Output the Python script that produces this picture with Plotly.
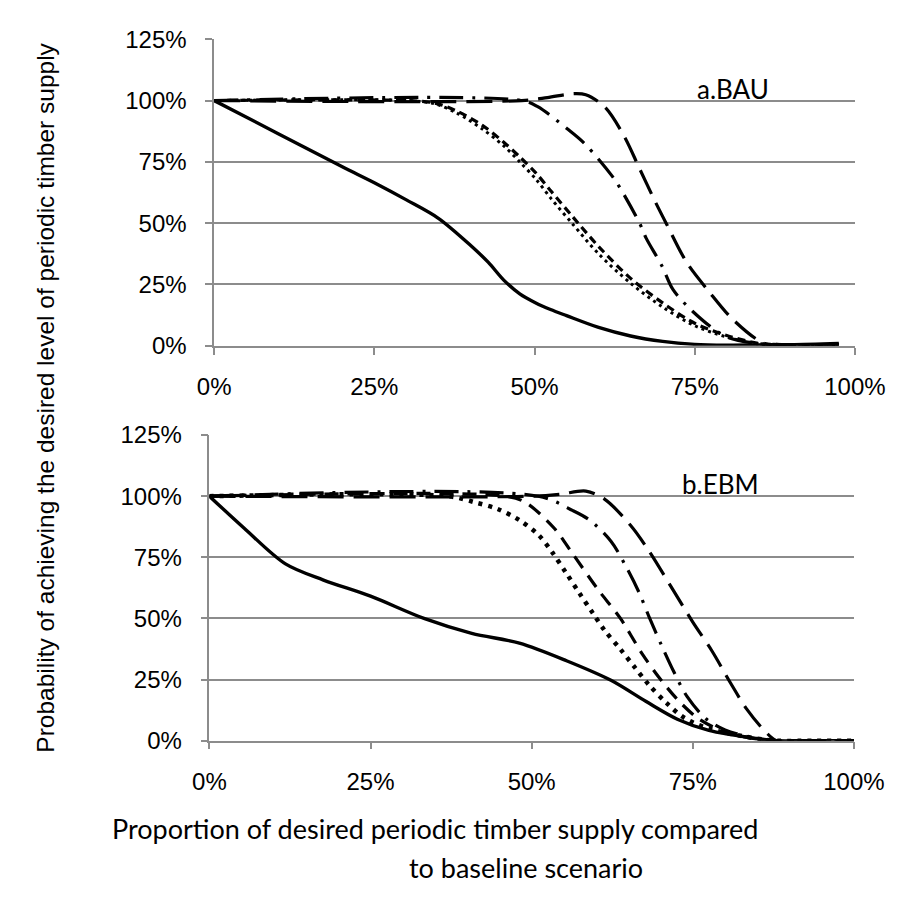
import plotly.graph_objects as go

# ---- a. BAU scenario (x: % of desired supply, y: % probability) ----
bau_solid_x = [0, 10, 20, 25, 30, 35, 40, 42.8, 45.2, 47.7, 50.2, 52.5, 55, 60, 65, 70, 75, 80, 85, 90, 97.5]
bau_solid_y = [100, 86.5, 73, 66.5, 59.5, 52, 41, 34, 26.8, 21.2, 17.5, 14.8, 12.3, 7.5, 4, 1.8, 0.6, 0.3, 0.4, 0.5, 1]

bau_dot_x = [0, 30, 34.4, 37.8, 41.8, 45.2, 47.7, 50.2, 52.6, 56, 60, 65, 70, 75, 80, 85, 90, 97.5]
bau_dot_y = [100, 100, 98.7, 95, 88.5, 81.5, 75, 68, 60, 49.5, 37.5, 25.5, 15.8, 8.2, 3.6, 0.8, 0.4, 0.5]

bau_dash_x = [0, 30, 34.4, 37.8, 41.8, 45.2, 47.7, 50.2, 52.6, 56, 60, 65, 70, 75, 80, 85, 90, 97.5]
bau_dash_y = [100, 100, 99, 95.8, 90, 83, 77, 70.5, 63, 52.5, 40.5, 27.5, 17.5, 9.2, 4.2, 1, 0.5, 0.5]

bau_dashdot_x = [0, 48, 50.5, 55.1, 57.8, 62, 63.2, 66.4, 67.4, 69.9, 71.6, 74.7, 79.7, 84.6, 90, 97.5]
bau_dashdot_y = [100, 100, 97.5, 88.5, 82.5, 69.6, 65, 50, 44, 32.5, 23, 14, 4, 1, 0.5, 0.5]

bau_longdash_x = [0, 48, 52, 56, 58, 61, 64, 66.4, 68.8, 70.6, 73.8, 77.3, 80.7, 84.6, 86.5, 90, 97.5]
bau_longdash_y = [100, 100, 101.2, 102.8, 102.4, 97.3, 85.4, 72.2, 59, 49.7, 33.8, 21.9, 11.4, 2.8, 0.5, 0.5, 0.5]

# ---- b. EBM scenario ----
ebm_solid_x = [0, 5.4, 11.8, 17.7, 25, 33.4, 40.7, 48.1, 55.4, 62.3, 67.7, 72.6, 77.5, 84.9, 88, 92, 96, 100]
ebm_solid_y = [100, 86.9, 72.3, 65.7, 59.1, 49.9, 43.9, 39.9, 32.7, 24.7, 16.1, 8.8, 4.2, 0.9, 0, 0, 0, 0]

ebm_dot_x = [0, 37, 41.2, 44.7, 48.1, 51, 53.2, 55.4, 57.4, 59.4, 61.3, 63.8, 66, 68.2, 70.9, 73.6, 77.5, 84.9, 88, 94, 100]
ebm_dot_y = [100, 100, 97.5, 94.8, 90.2, 84.3, 77, 68.4, 60.4, 52.5, 45.2, 37.3, 30, 22.8, 15.5, 9.5, 4.9, 0.9, 0, 0, 0]

ebm_dash_x = [0, 46, 49, 53.5, 56.4, 60.3, 63.8, 67.2, 70.1, 73.1, 76, 80, 84.9, 88, 94, 100]
ebm_dash_y = [100, 100, 97.5, 86.9, 76.3, 61.8, 49.9, 35.3, 24.7, 15.5, 8.8, 3.6, 0.7, 0, 0, 0]

ebm_dashdot_x = [0, 51, 56.4, 59, 62.3, 64.5, 66.7, 68.3, 70.1, 72, 74.1, 77, 80, 84.9, 88, 94, 100]
ebm_dashdot_y = [100, 100, 94.1, 90.2, 81.6, 71.9, 60.4, 50.1, 39.3, 28.5, 18.1, 9.1, 4.4, 0.9, 0, 0, 0]

ebm_longdash_x = [0, 50, 54.4, 58.4, 61.3, 65.3, 68.2, 71.6, 75, 78, 80.9, 83.4, 86.3, 88, 94, 100]
ebm_longdash_y = [100, 100, 100.8, 102.1, 98.8, 88.2, 77.6, 63.1, 48.5, 36.6, 23.4, 12.8, 3.6, 0, 0, 0]

tick_vals_y = [0, 25, 50, 75, 100, 125]
tick_vals_x = [0, 25, 50, 75, 100]

panel_labels = ["a.BAU", "b.EBM"]
y_title = "Probability of achieving the desired level of periodic timber supply"
x_title_1 = "Proportion of desired periodic timber supply compared"
x_title_2 = "to baseline scenario"

W, H = 920, 907
ARIAL = "Liberation Sans, Arial, sans-serif"
TICK_FONT = dict(family=ARIAL, size=24, color="#000000")
LABEL_FONT = "Lato, Carlito, Calibri, sans-serif"
GRID = "#8c8c8c"


def px_x(p):
    return p / W


def px_y(p):
    return 1 - p / H


styles = {
    "solid": dict(color="black", width=3.4, dash="solid"),
    "dot_a": dict(color="black", width=3, dash="3px,4px"),
    "dot_b": dict(color="black", width=4.5, dash="4px,6px"),
    "dash_a": dict(color="black", width=3.2, dash="8px,5px"),
    "dash_b": dict(color="black", width=3.2, dash="14px,9px"),
    "dashdot": dict(color="black", width=3.2, dash="24px,9px,3px,9px"),
    "longdash": dict(color="black", width=3.2, dash="26px,10px"),
}

fig = go.Figure()

panel_a = [
    (bau_solid_x, bau_solid_y, "solid"),
    (bau_dot_x, bau_dot_y, "dot_a"),
    (bau_dash_x, bau_dash_y, "dash_a"),
    (bau_dashdot_x, bau_dashdot_y, "dashdot"),
    (bau_longdash_x, bau_longdash_y, "longdash"),
]
panel_b = [
    (ebm_solid_x, ebm_solid_y, "solid"),
    (ebm_dot_x, ebm_dot_y, "dot_b"),
    (ebm_dash_x, ebm_dash_y, "dash_b"),
    (ebm_dashdot_x, ebm_dashdot_y, "dashdot"),
    (ebm_longdash_x, ebm_longdash_y, "longdash"),
]

for xs, ys, st in panel_a:
    fig.add_trace(go.Scatter(x=xs, y=ys, mode="lines", line=dict(**styles[st], shape="spline", smoothing=0.9),
                             xaxis="x", yaxis="y", showlegend=False, hoverinfo="skip"))
for xs, ys, st in panel_b:
    fig.add_trace(go.Scatter(x=xs, y=ys, mode="lines", line=dict(**styles[st], shape="spline", smoothing=0.9),
                             xaxis="x2", yaxis="y2", showlegend=False, hoverinfo="skip"))

xaxis_common = dict(
    range=[0, 100], tickvals=tick_vals_x, ticktext=[f"{v}%" for v in tick_vals_x],
    ticks="outside", ticklen=7, tickwidth=1.5, tickcolor=GRID,
    showline=True, linecolor=GRID, linewidth=1.5, showgrid=False, zeroline=False,
    tickfont=TICK_FONT, ticklabelstandoff=12, fixedrange=True,
)
yaxis_common = dict(
    range=[0, 125], tickvals=tick_vals_y, ticktext=[f"{v}%" for v in tick_vals_y],
    ticks="outside", ticklen=7, tickwidth=1.5, tickcolor=GRID,
    showline=True, linecolor=GRID, linewidth=1.5, showgrid=True, gridcolor=GRID, gridwidth=1.5,
    zeroline=False, tickfont=TICK_FONT, ticklabelstandoff=14, fixedrange=True,
)

fig.update_layout(
    width=W, height=H,
    margin=dict(l=0, r=0, t=0, b=0),
    paper_bgcolor="white", plot_bgcolor="white",
    xaxis=dict(domain=[px_x(208), px_x(884)], anchor="y", **xaxis_common),
    yaxis=dict(domain=[px_y(342), px_y(26)], anchor="x", **yaxis_common),
    xaxis2=dict(domain=[px_x(203), px_x(883)], anchor="y2", **xaxis_common),
    yaxis2=dict(domain=[px_y(749), px_y(434)], anchor="x2", **yaxis_common),
)

annotations = [
    dict(text=panel_labels[0], x=px_x(755), y=px_y(77)),
    dict(text=panel_labels[1], x=px_x(742), y=px_y(484)),
]
for a in annotations:
    fig.add_annotation(xref="paper", yref="paper", xanchor="center", yanchor="middle", showarrow=False,
                       font=dict(family=LABEL_FONT, size=26, color="black"), **a)

fig.add_annotation(text=y_title, xref="paper", yref="paper", x=px_x(30), y=px_y(395),
                   xanchor="center", yanchor="middle", textangle=-90, showarrow=False,
                   font=dict(family=ARIAL, size=24.5, color="black"))
fig.add_annotation(text=x_title_1, xref="paper", yref="paper", x=px_x(441), y=px_y(840),
                   xanchor="center", yanchor="middle", showarrow=False,
                   font=dict(family=LABEL_FONT, size=27, color="black"))
fig.add_annotation(text=x_title_2, xref="paper", yref="paper", x=px_x(537), y=px_y(880),
                   xanchor="center", yanchor="middle", showarrow=False,
                   font=dict(family=LABEL_FONT, size=27, color="black"))

fig.write_html("out.html")
